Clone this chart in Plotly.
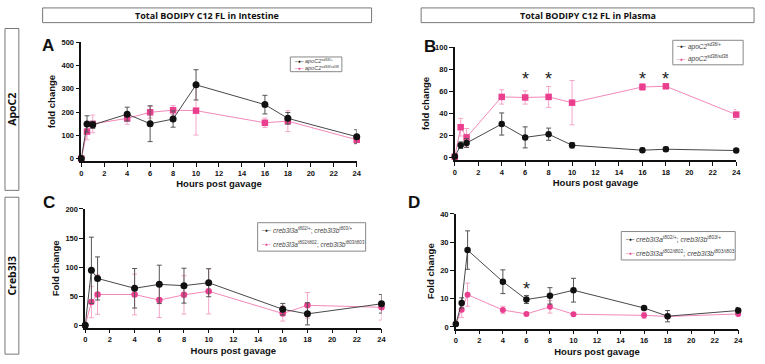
import plotly.graph_objects as go

W, H = 765, 364

hours = [0, 0.5, 1, 4, 6, 8, 10, 16, 18, 24]

# Panel A: intestine, ApoC2
a_het = [0, 149, 145, 191, 150, 170, 317, 232, 173, 94]
a_het_err = [0, 35, 15, 30, 77, 35, 65, 40, 25, 30]
a_mut = [0, 116, 149, 173, 199, 208, 206, 154, 161, 81]
a_mut_err = [0, 35, 38, 25, 25, 20, 105, 20, 45, 15]

# Panel B: plasma, ApoC2
b_het = [1, 11.3, 13.3, 30.5, 18.4, 21.3, 11.3, 6.8, 7.7, 6.5]
b_het_err = [0, 3, 4, 10, 9.5, 5.5, 2.5, 2, 2, 1.5]
b_mut = [1, 27.6, 18.4, 55, 54.5, 55, 49.8, 64, 64.6, 39]
b_mut_err = [0, 8, 8, 6.5, 6, 9.5, 20, 3, 2, 4.5]
b_sig = [6, 8, 16, 18]

# Panel C: intestine, Creb3l3
c_het = [0, 94.6, 80.6, 63.7, 70.4, 68.2, 73.2, 27.6, 19.7, 37]
c_het_err = [0, 57, 37, 34, 33, 30, 24, 10, 19, 16]
c_mut = [0, 40, 53, 53, 43.4, 52.4, 58.6, 20.3, 34.4, 31]
c_mut_err = [0, 27, 34, 35, 30, 33, 39, 13, 22, 22]

# Panel D: plasma, Creb3l3
d_het = [1, 8.5, 27.2, 16, 9.7, 11, 13, 6.7, 3.8, 5.8]
d_het_err = [0, 1.8, 6.8, 4.2, 1.4, 2.9, 4.2, 0.3, 2, 1.1]
d_mut = [1, 6.1, 11.4, 6.0, 4.6, 7.1, 4.5, 4.1, 3.7, 4.6]
d_mut_err = [0, 2.8, 4.1, 1.3, 0.5, 2.2, 0.5, 1.1, 0.5, 0.6]
d_sig = [6]

x_ticks = list(range(0, 25, 2))

BLACK = "#111111"
PINK = "#ea3f8f"
PINK_LINE = "#f27bb1"
PINK_ERR = "#f4a6c8"
GRAY_ERR = "#555555"

TICKFONT = dict(family="Liberation Sans, Arial", size=7.5, color="#111", weight="bold")
TITLEFONT = dict(family="Liberation Sans, Arial", size=9.5, color="#111", weight="bold")


def px_x(v):
    return v / W


def px_y(v):
    return 1 - v / H


fig = go.Figure()


def panel(idx, xpx, ypx, yrange, dtick, ytitle, series, sig=None, sig_y=None):
    xa = "x" if idx == 1 else f"x{idx}"
    ya = "y" if idx == 1 else f"y{idx}"
    xkey = "xaxis" if idx == 1 else f"xaxis{idx}"
    ykey = "yaxis" if idx == 1 else f"yaxis{idx}"
    for (vals, errs, color, lcolor, ecolor, symbol, size) in series:
        fig.add_trace(go.Scatter(
            x=hours, y=vals, xaxis=xa, yaxis=ya, mode="lines+markers",
            line=dict(color=lcolor, width=0.9),
            marker=dict(color=color, symbol=symbol, size=size, line=dict(width=0)),
            error_y=dict(type="data", array=errs, visible=True, color=ecolor,
                         thickness=1, width=2.5),
            cliponaxis=False, showlegend=False, hoverinfo="skip"))
    fig.layout[xkey] = dict(
        domain=[px_x(xpx[0]), px_x(xpx[1])], anchor=ya, range=[0, 24],
        tickvals=x_ticks, ticks="outside", ticklen=4, tickwidth=1.2,
        tickcolor="#111", showline=True, linecolor="#111", linewidth=1.5,
        showgrid=False, zeroline=False, tickfont=TICKFONT,
        title=dict(text="Hours post gavage", font=TITLEFONT, standoff=4))
    fig.layout[ykey] = dict(
        domain=[px_y(ypx[1]), px_y(ypx[0])], anchor=xa, range=yrange,
        tick0=0, dtick=dtick, ticks="outside", ticklen=4, tickwidth=1.2,
        tickcolor="#111", showline=True, linecolor="#111", linewidth=1.5,
        showgrid=False, zeroline=False, tickfont=TICKFONT,
        title=dict(text=ytitle, font=TITLEFONT, standoff=4))
    if sig:
        for s in sig:
            fig.add_annotation(x=s, y=sig_y, xref=xa, yref=ya, text="*",
                               showarrow=False, yanchor="middle",
                               font=dict(family="Liberation Sans, Arial", size=18, color="#222"))


panel(1, (80, 358), (39, 160), [-10, 500], 100, "fold change", [
    (a_mut, a_mut_err, PINK, PINK_LINE, PINK_ERR, "square", 6.5),
    (a_het, a_het_err, BLACK, "#333", GRAY_ERR, "circle", 7),
])
panel(2, (457, 741), (44, 159), [-2, 100], 20, "fold change", [
    (b_mut, b_mut_err, PINK, PINK_LINE, PINK_ERR, "square", 6.5),
    (b_het, b_het_err, BLACK, "#333", GRAY_ERR, "circle", 6.5),
], sig=b_sig, sig_y=71.5)
panel(3, (84, 383), (209, 330), [-4, 200], 50, "Fold change", [
    (c_mut, c_mut_err, PINK, PINK_LINE, PINK_ERR, "circle", 6.5),
    (c_het, c_het_err, BLACK, "#333", GRAY_ERR, "circle", 7),
])
panel(4, (458, 743), (214, 331), [-0.6, 40], 10, "Fold change", [
    (d_mut, d_mut_err, PINK, PINK_LINE, PINK_ERR, "circle", 6),
    (d_het, d_het_err, BLACK, "#333", GRAY_ERR, "circle", 6.5),
], sig=d_sig, sig_y=13.5)

shapes = []
annos = []


def box(x0, y0, x1, y1, color="#777", width=1):
    shapes.append(dict(type="rect", xref="paper", yref="paper",
                       x0=px_x(x0), x1=px_x(x1), y0=px_y(y1), y1=px_y(y0),
                       line=dict(color=color, width=width), fillcolor="rgba(0,0,0,0)"))


def text(x, y, t, size, bold=True, angle=0, family="Open Sans, Liberation Sans", color="#111",
         xanchor="center"):
    annos.append(dict(x=px_x(x), y=px_y(y), xref="paper", yref="paper", text=t,
                      showarrow=False, textangle=angle, xanchor=xanchor, yanchor="middle",
                      font=dict(family=family, size=size, color=color,
                                weight="bold" if bold else "normal")))


# header boxes
box(41, 4, 373, 19)
text(207, 11.5, "Total BODIPY C12 FL in Intestine", 9)
box(423, 4, 759, 19)
text(591, 11.5, "Total BODIPY C12 FL in Plasma", 9)

# side label boxes
box(3, 25, 17, 190)
text(10, 107, "ApoC2", 10.5, angle=-90)
box(3, 197, 17, 357)
text(10, 277, "Creb3l3", 10.5, angle=-90)

# panel letters
for lx, ly, lt in [(46, 42, "A"), (432, 43, "B"), (47, 202, "C"), (416, 202, "D")]:
    text(lx, ly, lt, 17, family="Liberation Sans, Arial")


# legends (drawn as boxes with text)
def legend(x0, y0, x1, y1, lines, size):
    box(x0, y0, x1, y1, color="#888", width=1)
    n = len(lines)
    step = (y1 - y0) / n
    for i, (col, label) in enumerate(lines):
        yy = y0 + step * (i + 0.5)
        text(x0 + 2.5, yy, "‒●‒", 5, bold=False,
             family="Liberation Sans, Arial", color=col, xanchor="left")
        text(x0 + 13, yy, label, size, bold=False, family="Liberation Sans, Arial",
             color="#444", xanchor="left")


legend(291, 54, 343, 69, [
    (BLACK, "<i>apoC2</i><sup>sd38/+</sup>"),
    (PINK, "<i>apoC2</i><sup>sd38/sd38</sup>"),
], 5.5)
legend(677, 37, 748, 62, [
    (BLACK, "<i>apoC2</i><sup>sd38/+</sup>"),
    (PINK, "<i>apoC2</i><sup>sd38/sd38</sup>"),
], 6.5)
legend(258, 223, 367, 252, [
    (BLACK, "<i>creb3l3a</i><sup>t802/+</sup>; <i>creb3l3b</i><sup>t803/+</sup>"),
    (PINK, "<i>creb3l3a</i><sup>t802/t802</sup>; <i>creb3l3b</i><sup>t803/t803</sup>"),
], 6.5)
legend(625, 232, 740, 261, [
    (BLACK, "<i>creb3l3a</i><sup>t802/+</sup>; <i>creb3l3b</i><sup>t803/+</sup>"),
    (PINK, "<i>creb3l3a</i><sup>t802/t802</sup>; <i>creb3l3b</i><sup>t803/t803</sup>"),
], 7)

fig.update_layout(
    width=W, height=H, margin=dict(l=0, r=0, t=0, b=0),
    paper_bgcolor="white", plot_bgcolor="white",
    shapes=shapes, annotations=list(fig.layout.annotations) + annos,
    showlegend=False,
)

fig.write_html("out.html", config={"displayModeBar": False},
               post_script="document.body.style.margin='0';document.body.style.padding='0';")
